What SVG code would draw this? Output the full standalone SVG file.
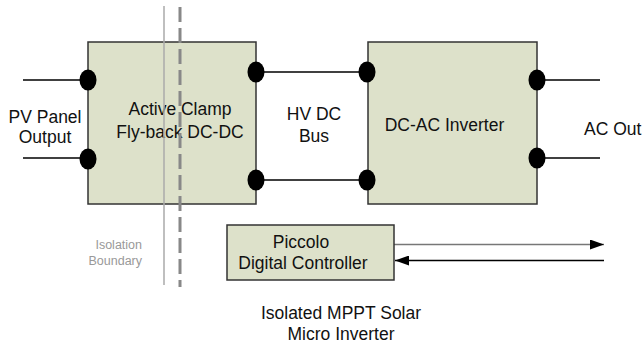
<svg xmlns="http://www.w3.org/2000/svg" width="644" height="347" viewBox="0 0 644 347">
<style>
text{font-family:"Liberation Sans",Arial,sans-serif;font-size:17.5px;fill:#111;text-anchor:middle}
.box{fill:#dde1ca;stroke:#333;stroke-width:1.5}
.wire{stroke:#000;stroke-width:1.3;fill:none}
.dot{fill:#000}
.iso{font-size:12.5px;fill:#999;text-anchor:end}
</style>
<defs>
<marker id="ah" markerWidth="14" markerHeight="10" refX="14" refY="5" orient="auto" markerUnits="userSpaceOnUse">
<path d="M0,0 L14,5 L0,10 Z" fill="#000"/>
</marker>
</defs>
<g id="connectors">
<line class="wire" x1="23" y1="80" x2="88" y2="80"/>
<line class="wire" x1="23" y1="158" x2="88" y2="158"/>
<line class="wire" x1="256" y1="72" x2="368" y2="72"/>
<line class="wire" x1="256" y1="180" x2="368" y2="180"/>
<line class="wire" x1="537" y1="80" x2="600" y2="80"/>
<line class="wire" x1="537" y1="158" x2="600" y2="158"/>
<line x1="394" y1="244.5" x2="604" y2="244.5" stroke="#777" stroke-width="1.5" marker-end="url(#ah)"/>
<line x1="604" y1="260.5" x2="395" y2="260.5" stroke="#000" stroke-width="1.5" marker-end="url(#ah)"/>
</g>
<g id="pv-label">
<text x="45" y="123">PV Panel</text>
<text x="45" y="143">Output</text>
</g>
<g id="flyback">
<rect class="box" x="88" y="42" width="168" height="162"/>
<text x="180" y="115">Active Clamp</text>
<text x="180" y="138">Fly-back DC-DC</text>
<ellipse class="dot" cx="88" cy="80" rx="8.5" ry="10.5"/>
<ellipse class="dot" cx="88" cy="159" rx="8.5" ry="10.5"/>
<ellipse class="dot" cx="256" cy="72" rx="8.5" ry="10.5"/>
<ellipse class="dot" cx="256" cy="180" rx="8.5" ry="10.5"/>
</g>
<g id="hvdc-label">
<text x="314" y="120">HV DC</text>
<text x="314" y="142">Bus</text>
</g>
<g id="inverter">
<rect class="box" x="368" y="42" width="169" height="162"/>
<text x="444.5" y="131">DC-AC Inverter</text>
<ellipse class="dot" cx="367" cy="72" rx="8.5" ry="10.5"/>
<ellipse class="dot" cx="367" cy="180" rx="8.5" ry="10.5"/>
<ellipse class="dot" cx="537" cy="80" rx="8.5" ry="10.5"/>
<ellipse class="dot" cx="537" cy="158" rx="8.5" ry="10.5"/>
</g>
<g id="ac-label">
<text x="584" y="135" style="text-anchor:start">AC Out</text>
</g>
<g id="controller">
<rect class="box" x="227" y="225" width="167" height="55"/>
<text x="301" y="248">Piccolo</text>
<text x="303" y="269">Digital Controller</text>
</g>
<g id="isolation">
<line x1="164" y1="6" x2="164" y2="285" stroke="#aaa" stroke-width="1.5"/>
<line x1="180" y1="7" x2="180" y2="287" stroke="#888" stroke-width="3" stroke-dasharray="15,6"/>
<text class="iso" x="142" y="249">Isolation</text>
<text class="iso" x="142" y="265">Boundary</text>
</g>
<g id="title">
<text x="341" y="319">Isolated MPPT Solar</text>
<text x="341" y="340">Micro Inverter</text>
</g>
</svg>
